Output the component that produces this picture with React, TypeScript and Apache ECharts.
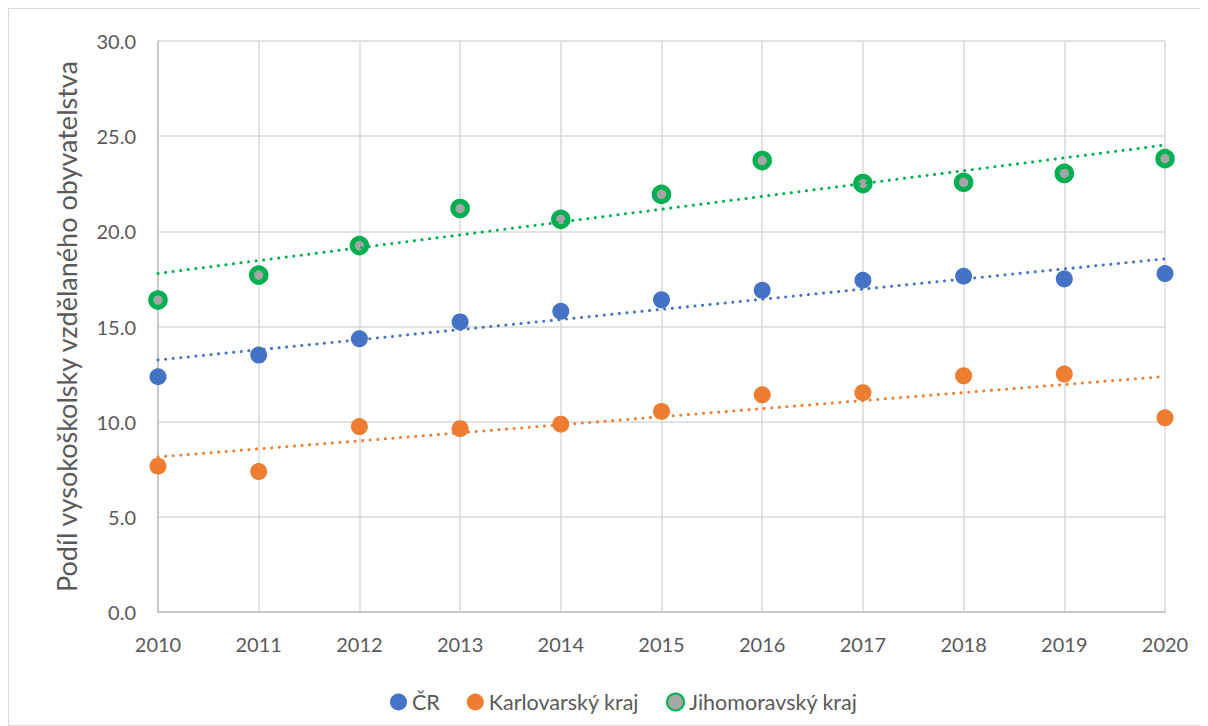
import React, { useEffect, useRef } from "react";
import * as echarts from "echarts";

const years = [2010, 2011, 2012, 2013, 2014, 2015, 2016, 2017, 2018, 2019, 2020];
const cr = [12.36, 13.5, 14.35, 15.24, 15.8, 16.4, 16.9, 17.43, 17.64, 17.5, 17.78];
const karlovarsky = [7.66, 7.38, 9.74, 9.63, 9.87, 10.54, 11.41, 11.52, 12.41, 12.5, 10.2];
const jihomoravsky = [16.39, 17.7, 19.25, 21.2, 20.63, 21.94, 23.72, 22.51, 22.57, 23.04, 23.82];

const seriesNames = ["ČR", "Karlovarský kraj", "Jihomoravský kraj"];
const yTicks = { min: 0, max: 30, interval: 5 };

function linTrend(xs: number[], ys: number[]) {
  const n = xs.length;
  const mx = xs.reduce((a, b) => a + b, 0) / n;
  const my = ys.reduce((a, b) => a + b, 0) / n;
  let sxy = 0, sxx = 0;
  for (let i = 0; i < n; i++) {
    sxy += (xs[i] - mx) * (ys[i] - my);
    sxx += (xs[i] - mx) * (xs[i] - mx);
  }
  const b = sxy / sxx;
  const a = my - b * mx;
  const x0 = xs[0], x1 = xs[n - 1];
  return [[x0, a + b * x0], [x1, a + b * x1]];
}

const FONT = "Lato, 'Noto Sans', sans-serif";
const TXT = "#595959";

export default function App() {
  const ref = useRef<HTMLDivElement>(null);
  useEffect(() => {
    if (!ref.current) return;
    const chart = echarts.init(ref.current, null, { renderer: "svg" });
    const colors = ["#4472C4", "#ED7D31", "#00B050"];
    const datasets = [cr, karlovarsky, jihomoravsky];
    const scatter = datasets.map((d, i) => ({
      name: seriesNames[i],
      type: "scatter",
      symbol: "circle",
      symbolSize: i === 2 ? 14.5 : 17,
      data: years.map((y, k) => [y, d[k]]),
      itemStyle:
        i === 2
          ? { color: "#A5A5A5", borderColor: "#00B050", borderWidth: 5, opacity: 1 }
          : { color: colors[i], opacity: 1 },
      z: 2,
    }));
    const trends = datasets.map((d, i) => ({
      type: "line",
      data: linTrend(years, d),
      symbol: "none",
      silent: true,
      lineStyle: { color: colors[i], width: 3, type: [0.1, 7.5], cap: "round", opacity: 1 },
      z: 3,
    }));
    chart.setOption({
      animation: false,
      textStyle: { fontFamily: FONT },
      grid: { left: 149, right: 42, top: 32, bottom: 113 },
      legend: {
        data: seriesNames,
        top: 677,
        left: 376,
        icon: "circle",
        itemWidth: 17,
        itemHeight: 17,
        itemGap: 27,
        textStyle: { fontSize: 21.5, color: TXT, fontFamily: FONT },
      },
      xAxis: {
        type: "value",
        min: 2010,
        max: 2020,
        interval: 1,
        axisLine: { show: true, onZero: false, lineStyle: { color: "#bfbfbf", width: 1.5 } },
        axisTick: { show: false },
        splitLine: { show: true, lineStyle: { color: "#d9d9d9", width: 1.5 } },
        axisLabel: { formatter: (v: number) => String(v), fontSize: 20, color: TXT, margin: 22 },
      },
      yAxis: {
        type: "value",
        min: yTicks.min,
        max: yTicks.max,
        interval: yTicks.interval,
        name: "Podíl vysokoškolsky vzdělaného obyvatelstva",
        nameLocation: "middle",
        nameGap: 78,
        nameTextStyle: { fontSize: 27, color: TXT, fontFamily: FONT },
        axisLine: { show: true, lineStyle: { color: "#bfbfbf", width: 1.5 } },
        axisTick: { show: false },
        splitLine: { show: true, lineStyle: { color: "#d9d9d9", width: 1.5 } },
        axisLabel: { formatter: (v: number) => v.toFixed(1), fontSize: 20, color: TXT, margin: 22 },
      },
      series: [...scatter, ...trends],
    });
    return () => chart.dispose();
  }, []);
  return (
    <div
      ref={ref}
      style={{ width: 1200, height: 718, border: "1px solid #d9d9d9", boxSizing: "border-box", background: "#fff" }}
    />
  );
}
